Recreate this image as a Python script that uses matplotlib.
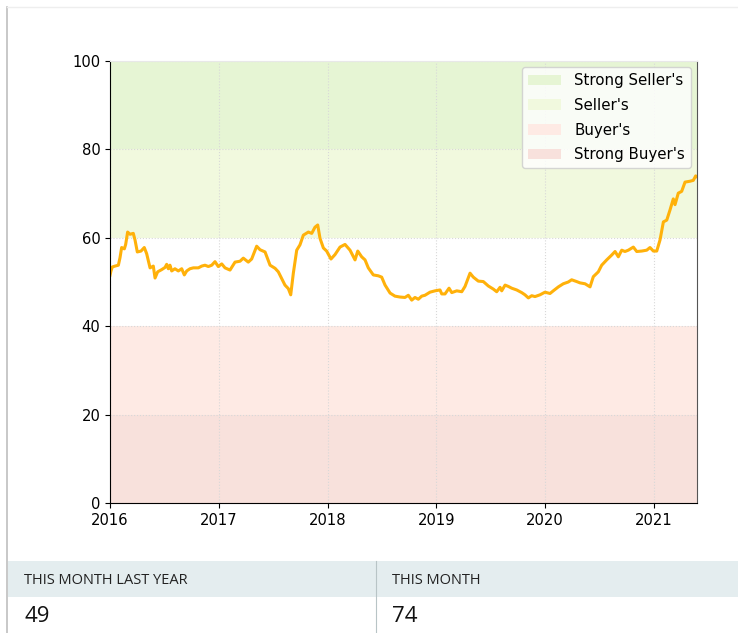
import matplotlib
matplotlib.use("Agg")
import matplotlib.pyplot as plt
from matplotlib.patches import Patch, Rectangle
from matplotlib.lines import Line2D

# ---- data (decimal years, market index value) ----
years = [
    2016.000, 2016.009, 2016.021, 2016.046, 2016.077, 2016.092, 2016.107, 2016.132, 2016.144,
    2016.162, 2016.184, 2016.214, 2016.230, 2016.251, 2016.285, 2016.315, 2016.337, 2016.368,
    2016.398, 2016.414, 2016.438, 2016.475, 2016.506, 2016.521, 2016.536, 2016.551, 2016.567,
    2016.597, 2016.628, 2016.659, 2016.683, 2016.705, 2016.735, 2016.766, 2016.812, 2016.843,
    2016.873, 2016.904, 2016.935, 2016.965, 2016.995, 2017.027, 2017.057,
    2017.103, 2017.149, 2017.195, 2017.225, 2017.271, 2017.302, 2017.348, 2017.379, 2017.425,
    2017.471, 2017.517, 2017.547, 2017.578, 2017.608, 2017.639, 2017.661, 2017.685, 2017.716,
    2017.746, 2017.777, 2017.823, 2017.854, 2017.884, 2017.909, 2017.930, 2017.961, 2017.991,
    2018.031, 2018.068, 2018.114, 2018.160,
    2018.206, 2018.252, 2018.277, 2018.313, 2018.344, 2018.374, 2018.420, 2018.466, 2018.497,
    2018.528, 2018.574, 2018.619, 2018.665, 2018.711, 2018.742, 2018.773, 2018.803, 2018.834,
    2018.865, 2018.895, 2018.941, 2018.987, 2019.033, 2019.049, 2019.079, 2019.116, 2019.141,
    2019.187, 2019.233, 2019.263, 2019.293,
    2019.309, 2019.339, 2019.385, 2019.431, 2019.477, 2019.523, 2019.554, 2019.585, 2019.600,
    2019.631, 2019.661, 2019.692, 2019.738, 2019.784, 2019.814, 2019.845, 2019.876, 2019.906,
    2019.952, 2019.998, 2020.044, 2020.074, 2020.121, 2020.166, 2020.212, 2020.243, 2020.289,
    2020.320, 2020.366,
    2020.412, 2020.442, 2020.488, 2020.519, 2020.565, 2020.611, 2020.642, 2020.672, 2020.703,
    2020.733, 2020.764, 2020.810, 2020.841, 2020.887, 2020.933, 2020.963, 2020.994, 2021.025,
    2021.055, 2021.086, 2021.117, 2021.147, 2021.177, 2021.193, 2021.223, 2021.254, 2021.285,
    2021.331, 2021.361, 2021.383, 2021.395,
]
values = [
    51.5, 52.5, 53.4, 53.6, 53.8, 55.5, 57.8, 57.5, 58.5,
    61.3, 60.8, 61.0, 59.5, 56.8, 57.0, 57.8, 56.4, 53.2,
    53.6, 50.9, 52.3, 52.8, 53.3, 54.0, 53.0, 53.8, 52.5,
    53.0, 52.5, 53.0, 51.6, 52.5, 53.0, 53.2, 53.2, 53.6,
    53.8, 53.5, 53.8, 54.6, 53.5, 54.1, 53.2,
    52.7, 54.5, 54.7, 55.4, 54.5, 55.2, 58.1, 57.3, 56.8,
    53.8, 53.1, 52.3, 50.8, 49.3, 48.5, 47.1, 52.0, 57.2,
    58.4, 60.6, 61.3, 61.0, 62.4, 62.9, 59.9, 57.7, 57.0,
    55.2, 56.2, 57.9, 58.5,
    57.2, 55.0, 57.0, 55.7, 55.0, 53.2, 51.6, 51.4, 51.1,
    49.3, 47.5, 46.8, 46.6, 46.5, 47.0, 45.9, 46.5, 46.1,
    46.8, 47.0, 47.7, 48.0, 48.2, 47.3, 47.3, 48.6, 47.6,
    48.0, 47.8, 49.0, 51.0,
    52.0, 51.1, 50.2, 50.1, 49.1, 48.4, 47.8, 48.8, 48.0,
    49.3, 49.0, 48.6, 48.2, 47.6, 47.1, 46.4, 46.9, 46.7,
    47.1, 47.7, 47.4, 48.0, 48.9, 49.6, 50.0, 50.5, 50.1,
    49.8, 49.6,
    48.9, 51.2, 52.3, 53.8, 55.0, 56.1, 56.9, 55.7, 57.2,
    56.9, 57.2, 57.9, 56.9, 57.0, 57.2, 57.8, 57.0, 57.0,
    59.5, 63.6, 64.0, 66.3, 68.8, 67.5, 70.1, 70.5, 72.6,
    72.8, 73.0, 74.0, 73.8,
]

band_labels = ["Strong Seller's", "Seller's", "Buyer's", "Strong Buyer's"]
band_ranges = [(80, 100), (60, 80), (20, 40), (0, 20)]
band_colors = ["#e6f5d4", "#f1f9de", "#feeae4", "#f8e1dc"]

year_ticks = [2016, 2017, 2018, 2019, 2020, 2021]
y_ticks = [0, 20, 40, 60, 80, 100]

table_headers = ["THIS MONTH LAST YEAR", "THIS MONTH"]
table_values = ["49", "74"]

# ---- figure ----
W, H = 738, 633
fig = plt.figure(figsize=(W / 100, H / 100), dpi=100)
fig.patch.set_facecolor("white")

ax = fig.add_axes([110 / W, 1 - 503 / H, (697 - 110) / W, (503 - 61) / H])
for (lo, hi), c in zip(band_ranges, band_colors):
    ax.axhspan(lo, hi, color=c, lw=0, zorder=0)

ax.plot(years, values, color="#ffb10a", lw=2.2, zorder=3)
ax.set_xlim(years[0], years[-1])
ax.set_ylim(0, 100)
ax.set_xticks(year_ticks)
ax.set_xticklabels([str(y) for y in year_ticks])
ax.set_yticks(y_ticks)
ax.tick_params(labelsize=10.6)
ax.grid(True, linestyle=":", color="#d8d8d8", lw=0.8, zorder=1)
ax.set_axisbelow(False)
for s in ["top", "right", "bottom", "left"]:
    ax.spines[s].set_zorder(4)
ax.spines["top"].set_color("#e8e8e8")
ax.spines["right"].set_color("#555555")

handles = [Patch(facecolor=c, edgecolor="none", label=l) for l, c in zip(band_labels, band_colors)]
ax.legend(handles=handles, loc="upper right", fontsize=10.8, framealpha=0.8,
          edgecolor="#cccccc", borderaxespad=0.4, labelspacing=0.65,
          handlelength=2.2, handletextpad=0.9)

# ---- page frame ----
fig.add_artist(Line2D([7 / W, 7 / W], [0, 1 - 7 / H], color="#bfbfbf", lw=1.2))
fig.add_artist(Line2D([7 / W, 1], [1 - 7 / H, 1 - 7 / H], color="#eeeeee", lw=1.0))

# ---- table ----
fig.add_artist(Rectangle((8 / W, 1 - 597 / H), 1 - 8 / W, 36 / H, transform=fig.transFigure,
                         facecolor="#e4edef", edgecolor="none"))
fig.add_artist(Line2D([376 / W, 376 / W], [0, 1 - 561 / H], color="#b8c4c6", lw=0.8))
xs = [24, 392]
for x, h, v in zip(xs, table_headers, table_values):
    fig.text(x / W, 1 - 581 / H, h, fontsize=10.5, va="center", ha="left",
             color="#222222", family="Open Sans")
    fig.text(x / W, 1 - 617 / H, v, fontsize=16, va="center", ha="left",
             color="#111111", family="Open Sans")

fig.savefig("out.png", dpi=100)
